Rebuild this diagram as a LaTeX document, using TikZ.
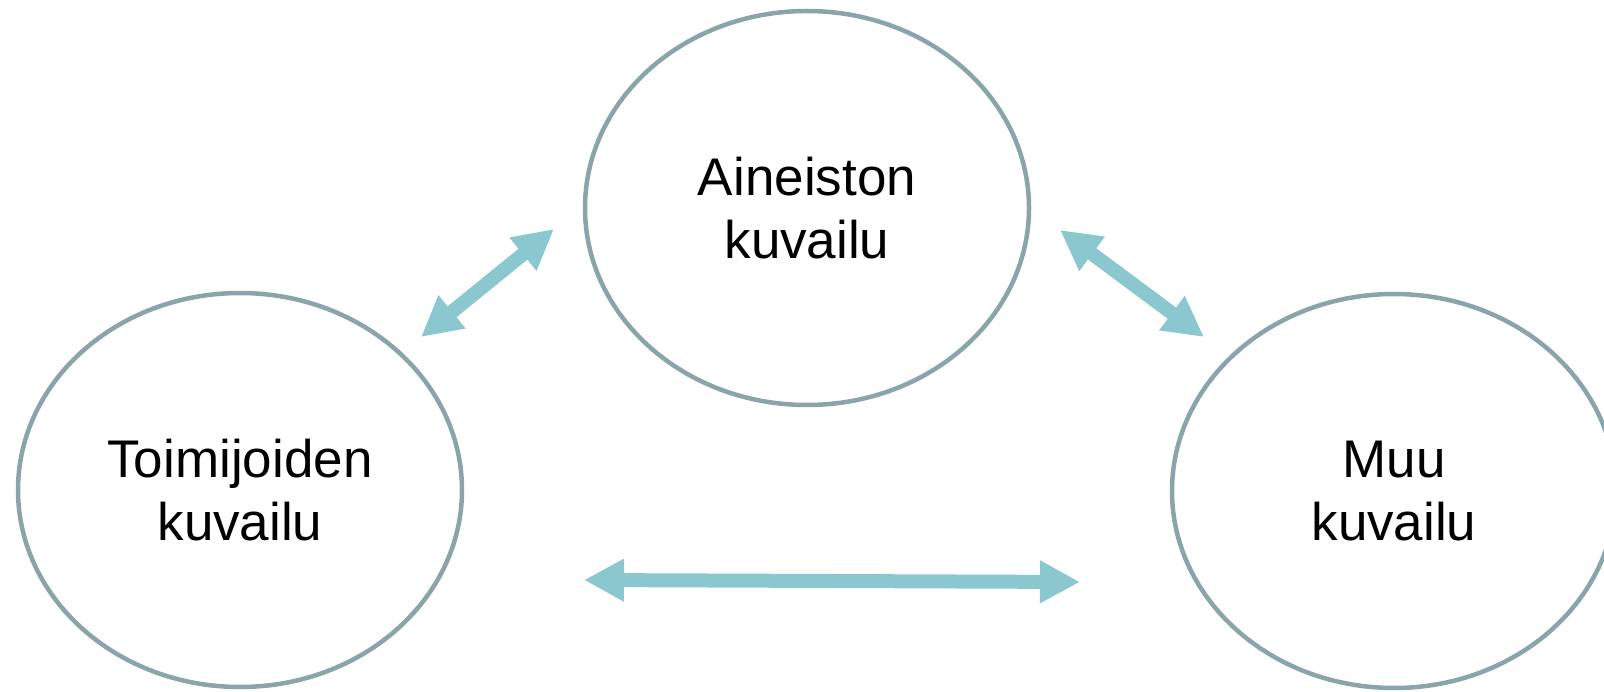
\documentclass[tikz,border=0pt]{standalone}
\usepackage{fontspec}
\setmainfont{Liberation Sans}
\usetikzlibrary{shapes.geometric,arrows.meta}
\definecolor{reuna}{HTML}{8AA5A9}
\definecolor{nuolivari}{HTML}{8BC7CF}
\begin{document}
\begin{tikzpicture}[x=1pt,y=-1pt,
	kuvailu/.style = {shape=ellipse, draw=reuna, line width=4.5pt,
		minimum width=444pt, minimum height=394pt, inner sep=0pt,
		align=center, font=\fontsize{53}{63}\selectfont},
	nuoli/.style = {draw=nuolivari, line width=14pt,
		{Triangle[width=40pt,length=40pt]}-{Triangle[width=40pt,length=40pt]}}]
	\useasboundingbox (0,0) rectangle (1604,692);
	\node[kuvailu] (aineisto) at (807,208) {Aineiston\\kuvailu};
	\node[kuvailu] (toimijat) at (240,490) {Toimijoiden\\kuvailu};
	\node[kuvailu] (muu) at (1394,491) {Muu\\kuvailu};
	\coordinate (ta1) at (421,337);
	\coordinate (ta2) at (554,229);
	\coordinate (am1) at (1060,230);
	\coordinate (am2) at (1204,337);
	\coordinate (tm1) at (584,580);
	\coordinate (tm2) at (1080,582);
	\draw[nuoli] (ta1) -- (ta2);
	\draw[nuoli] (am1) -- (am2);
	\draw[nuoli] (tm1) -- (tm2);
\end{tikzpicture}
\end{document}
